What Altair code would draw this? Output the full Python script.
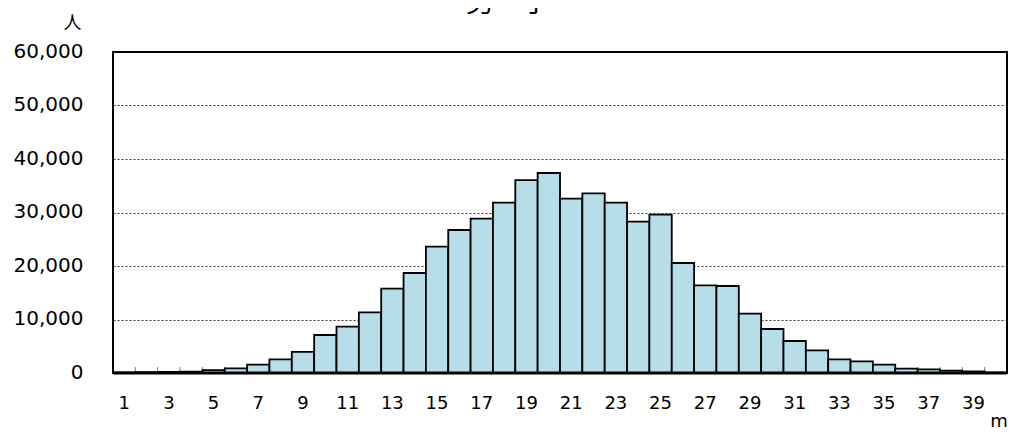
import altair as alt
import pandas as pd

# ---- data ----
classes = list(range(1, 41))
counts = [100, 150, 200, 250, 520, 850, 1550, 2550, 3930, 7100,
          8660, 11340, 15760, 18690, 23610, 26730, 28850, 31840, 36070, 37380,
          32580, 33580, 31840, 28280, 29590, 20560, 16380, 16260, 11090, 8220,
          5980, 4240, 2550, 2180, 1560, 810, 690, 440, 300, 80]
x_tick_labels = list(range(1, 40, 2))
y_ticks = [0, 10000, 20000, 30000, 40000, 50000, 60000]
title_text = ["男　子"]
y_unit = ["人"]
x_unit = ["m"]

df = pd.DataFrame({"cls": classes, "n": counts})

W, H = 894, 321
PAD_L, PAD_T = 105, 44

xscale = alt.Scale(domain=classes, paddingInner=0, paddingOuter=0)
yscale = alt.Scale(domain=[0, 60000], nice=False)

axis_x = alt.Axis(values=x_tick_labels, labelAngle=0, labelFont="DejaVu Sans",
                  labelFontSize=18, labelColor="black", labelPadding=21,
                  tickSize=0, ticks=False, domain=False, grid=False, title=None)
axis_y = alt.Axis(values=y_ticks, format=",d", labelFont="DejaVu Sans",
                  labelFontSize=20, labelColor="black", labelPadding=30,
                  tickSize=0, ticks=False, domain=False, grid=True,
                  gridColor="#333333", gridDash=[2, 2], gridWidth=1,
                  labelOffset=-1, title=None)

one = pd.DataFrame({"k": [0]})

# small inward ticks at category boundaries (visible only under short bars)
ticks = alt.Chart(df[df.cls > 1]).mark_rule(color="#808080", strokeWidth=1).encode(
    x=alt.X("cls:O", bandPosition=0, scale=xscale, axis=axis_x),
    y=alt.value(H),
    y2=alt.value(H - 6),
)

bars = alt.Chart(df).mark_bar(fill="#B7DEE8", stroke="black", strokeWidth=1.8).encode(
    x=alt.X("cls:O", scale=xscale, axis=axis_x),
    y=alt.Y("n:Q", scale=yscale, axis=axis_y),
)

frame = alt.Chart(one).mark_rect(fill=None, stroke="black", strokeWidth=2).encode(
    x=alt.value(0), x2=alt.value(W), y=alt.value(0), y2=alt.value(H)
)

baseline = alt.Chart(one).mark_rule(color="black", strokeWidth=3).encode(
    x=alt.value(0), x2=alt.value(W), y=alt.value(H)
)

title = alt.Chart(pd.DataFrame({"t": title_text})).mark_text(
    font="Noto Sans CJK JP", fontSize=28, align="center", baseline="alphabetic", color="black"
).encode(text="t:N", x=alt.value(395), y=alt.value(-40))

yunit = alt.Chart(pd.DataFrame({"t": y_unit})).mark_text(
    font="Noto Sans CJK JP", fontSize=18, align="center", baseline="middle", color="black"
).encode(text="t:N", x=alt.value(-40.5), y=alt.value(-28.5))

xunit = alt.Chart(pd.DataFrame({"t": x_unit})).mark_text(
    font="DejaVu Sans", fontSize=18, align="center", baseline="alphabetic", color="black"
).encode(text="t:N", x=alt.value(886), y=alt.value(375))

chart = alt.layer(ticks, bars, frame, baseline, title, yunit, xunit).properties(
    width=W, height=H,
    padding={"left": PAD_L, "top": PAD_T, "right": 1000 - PAD_L - W, "bottom": 423 - PAD_T - H},
    autosize=alt.AutoSizeParams(type="none"),
).configure_view(strokeWidth=0).configure(background="white")

chart.save("out.html", embed_options={"renderer": "svg", "actions": False})
